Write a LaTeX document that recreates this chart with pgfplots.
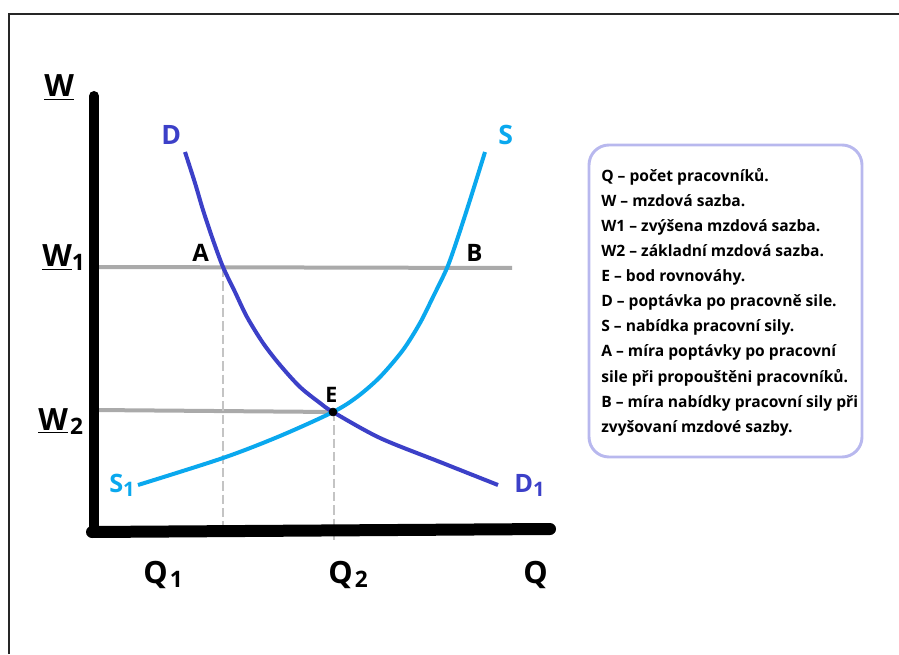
\documentclass[border=0pt]{standalone}
\usepackage{fontspec}
\setmainfont{Open Sans}
\usepackage{pgfplots}
\pgfplotsset{compat=1.18}

\definecolor{demand}{HTML}{3C40C8}
\definecolor{supply}{HTML}{0AA8EE}
\definecolor{guide}{HTML}{AAAAAA}
\definecolor{dashgray}{HTML}{C4C4C4}
\definecolor{boxedge}{HTML}{B8B8EE}

% sizes in pt; 1 px of the reference = 0.75pt
\newcommand{\biglbl}[1]{{\fontsize{23}{23}\selectfont\bfseries #1}}
\newcommand{\sublbl}[1]{\raisebox{-3pt}{\fontsize{17}{17}\selectfont\bfseries #1}}
\tikzset{legline/.style={anchor=base west, inner sep=0pt, font=\fontsize{11.7}{14}\selectfont\bfseries}}

\begin{document}
\begin{tikzpicture}
\begin{axis}[
  width=674.25pt, height=490.5pt, scale only axis,
  xmin=0, xmax=899, ymin=-654, ymax=0,
  hide axis, clip=false,
]
% frame (cut at the right and bottom edges)
\addplot[draw=black!85, line width=1.9pt] coordinates {(9,-654) (9,-14) (899,-14)};

% guide lines
\addplot[guide, line width=3pt] coordinates {(95,-267) (512,-268)};
\addplot[guide, line width=3pt] coordinates {(95,-410) (333,-412)};
\addplot[dashgray, line width=1.8pt, dash pattern=on 7pt off 3pt] coordinates {(223,-268) (223,-531)};
\addplot[dashgray, line width=1.8pt, dash pattern=on 7pt off 3pt] coordinates {(334,-412) (334,-540)};

% axes
\addplot[black, line width=7.5pt, line cap=round] coordinates {(94,-96) (94,-532)};
\addplot[black, line width=9pt, line cap=round] coordinates {(92,-532) (550,-529)};

% demand curve D
\addplot[demand, line width=3pt, smooth] coordinates {
(185,-152) (195,-183) (203,-210) (213,-240) (223,-267) (235,-292) (247,-317) (263,-343) (280,-365)
(300,-387) (320,-403) (333,-412) (380,-438) (440,-462) (498,-485)};
% supply curve S
\addplot[supply, line width=3pt, smooth] coordinates {
(138,-485) (223,-458) (280,-436) (333,-412) (357,-397) (380,-377) (403,-350) (420,-323) (433,-297)
(447,-268) (457,-240) (470,-200) (485,-152)};

% equilibrium point
\addplot[only marks, mark=*, mark size=3pt, black] coordinates {(333,-412)};

% axis labels
\node[anchor=base west, inner sep=0pt] at (axis cs:44,-97) {\biglbl{\underline{W}}};
\node[anchor=base west, inner sep=0pt] at (axis cs:42,-267) {\biglbl{\underline{W}}\sublbl{1}};
\node[anchor=base west, inner sep=0pt] at (axis cs:38,-430) {\biglbl{\underline{W}}\,\sublbl{2}};
\node[anchor=base west, inner sep=0pt] at (axis cs:143,-583) {\biglbl{Q}\,\sublbl{1}};
\node[anchor=base west, inner sep=0pt] at (axis cs:328,-583) {\biglbl{Q}\,\sublbl{2}};
\node[anchor=base west, inner sep=0pt] at (axis cs:523,-583) {\biglbl{Q}};

% curve labels
\node[anchor=base west, inner sep=0pt, text=demand] at (axis cs:161,-145) {\fontsize{20}{20}\selectfont\bfseries D};
\node[anchor=base west, inner sep=0pt, text=supply] at (axis cs:498,-145) {\fontsize{20}{20}\selectfont\bfseries S};
\node[anchor=base west, inner sep=0pt, text=supply] at (axis cs:109,-492) {\fontsize{19}{19}\selectfont\bfseries S\raisebox{-3pt}{\fontsize{15}{15}\selectfont 1}};
\node[anchor=base west, inner sep=0pt, text=demand] at (axis cs:514,-492) {\fontsize{19}{19}\selectfont\bfseries D\raisebox{-3pt}{\fontsize{15}{15}\selectfont 1}};

% point labels
\node[anchor=base west, inner sep=0pt] at (axis cs:192,-262) {\fontsize{18}{18}\selectfont\bfseries A};
\node[anchor=base west, inner sep=0pt] at (axis cs:466,-262) {\fontsize{18}{18}\selectfont\bfseries B};
\node[anchor=base west, inner sep=0pt] at (axis cs:325,-402) {\fontsize{16}{16}\selectfont\bfseries E};

% explanation box
\draw[boxedge, line width=2.2pt, rounded corners=15pt] (axis cs:589,-145) rectangle (axis cs:862,-457);
\node[legline] at (axis cs:601,-182) {Q – počet pracovníků.};
\node[legline] at (axis cs:601,-207) {W – mzdová sazba.};
\node[legline] at (axis cs:601,-232) {W1 – zvýšena mzdová sazba.};
\node[legline] at (axis cs:601,-257) {W2 – základní mzdová sazba.};
\node[legline] at (axis cs:601,-282) {E – bod rovnováhy.};
\node[legline] at (axis cs:601,-307) {D – poptávka po pracovně sile.};
\node[legline] at (axis cs:601,-332) {S – nabídka pracovní sily.};
\node[legline] at (axis cs:601,-357) {A – míra poptávky po pracovní};
\node[legline] at (axis cs:601,-382) {sile při propouštěni pracovníků.};
\node[legline] at (axis cs:601,-407) {B – míra nabídky pracovní sily při};
\node[legline] at (axis cs:601,-432) {zvyšovaní mzdové sazby.};
\end{axis}
\pgfresetboundingbox
\useasboundingbox (current axis.south west) rectangle (current axis.north east);
\end{tikzpicture}
\end{document}
